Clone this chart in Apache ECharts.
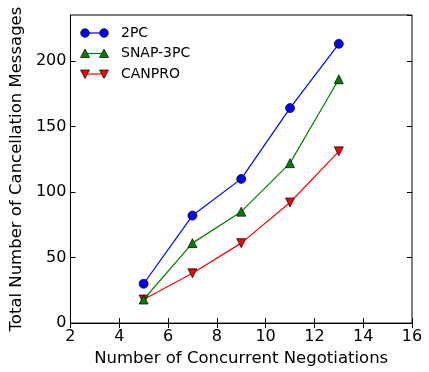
<!DOCTYPE html>
<html>
<head>
<meta charset="utf-8">
<script src="https://cdn.jsdelivr.net/npm/echarts@6/dist/echarts.min.js"></script>
<style>html,body{margin:0;padding:0;background:#fff;}#c{width:429px;height:372px;}</style>
</head>
<body>
<div id="c"></div>
<script>
var xValues = [5, 7, 9, 11, 13];
var seriesNames = ['2PC', 'SNAP-3PC', 'CANPRO'];
var values2PC = [30, 82, 110, 164, 213];
var valuesSNAP = [18, 61, 85, 122, 186];
var valuesCANPRO = [18, 38, 61, 92, 131];
var xTicks = [2, 4, 6, 8, 10, 12, 14, 16];
var yTicks = [0, 50, 100, 150, 200];

var colors = ['#0000ff', '#008000', '#ff0000'];
var symbols = ['circle', 'triangle', 'path://M0,0 L10,0 L5,10 Z'];
var allValues = [values2PC, valuesSNAP, valuesCANPRO];
var FONT = 'DejaVu Sans';

var chart = echarts.init(document.getElementById('c'), null, {renderer: 'canvas'});

var series = allValues.map(function (vals, i) {
  return {
    name: seriesNames[i],
    type: 'line',
    data: vals.map(function (v, j) { return [xValues[j], v]; }),
    symbol: symbols[i],
    symbolSize: i === 0 ? 9 : 9,
    showSymbol: true,
    lineStyle: {color: colors[i], width: 1.2},
    itemStyle: {color: colors[i], borderColor: '#000', borderWidth: 0.7},
    animation: false,
    z: 3 + (2 - i)
  };
});

// legend drawn as graphics (two markers per entry like matplotlib)
var legendGraphics = [];
var lx1 = 85, lx2 = 104, ltx = 121, ly0 = 33, ldy = 20.5;
seriesNames.forEach(function (name, i) {
  var y = ly0 + i * ldy;
  legendGraphics.push({type: 'line', shape: {x1: lx1, y1: y, x2: lx2, y2: y}, style: {stroke: colors[i], lineWidth: 1.2}, z: 10});
  [lx1, lx2].forEach(function (x) {
    if (i === 0) {
      legendGraphics.push({type: 'circle', shape: {cx: x, cy: y, r: 4.3}, style: {fill: colors[i], stroke: '#000', lineWidth: 0.7}, z: 11});
    } else if (i === 1) {
      legendGraphics.push({type: 'polygon', shape: {points: [[x, y - 4.5], [x + 4.5, y + 4], [x - 4.5, y + 4]]}, style: {fill: colors[i], stroke: '#000', lineWidth: 0.7}, z: 11});
    } else {
      legendGraphics.push({type: 'polygon', shape: {points: [[x - 4.5, y - 4], [x + 4.5, y - 4], [x, y + 4.5]]}, style: {fill: colors[i], stroke: '#000', lineWidth: 0.7}, z: 11});
    }
  });
  legendGraphics.push({type: 'text', x: ltx, y: y, style: {text: name, fill: '#000', font: '14px "' + FONT + '"', verticalAlign: 'middle', align: 'left'}, z: 11});
});

var tickStyle = {show: true, inside: true, length: 5, lineStyle: {color: '#000', width: 1}};

chart.setOption({
  backgroundColor: '#fff',
  animation: false,
  grid: {left: 68, right: 17, top: 15, bottom: 46, show: true, borderColor: '#000', borderWidth: 1, backgroundColor: 'transparent'},
  xAxis: [{
    type: 'value', min: xTicks[0], max: xTicks[xTicks.length - 1], interval: 2, position: 'bottom',
    axisLine: {show: true, lineStyle: {color: '#000', width: 1}},
    axisTick: tickStyle,
    splitLine: {show: false},
    axisLabel: {color: '#000', fontFamily: FONT, fontSize: 16, margin: 6},
    name: 'Number of Concurrent Negotiations', nameLocation: 'middle', nameGap: 24,
    nameTextStyle: {color: '#000', fontFamily: FONT, fontSize: 16.5}
  }, {
    type: 'value', min: xTicks[0], max: xTicks[xTicks.length - 1], interval: 2, position: 'top',
    axisLine: {show: false}, axisTick: tickStyle, splitLine: {show: false}, axisLabel: {show: false}
  }],
  yAxis: [{
    type: 'value', min: 0, max: 235, interval: 50, position: 'left',
    axisLine: {show: true, lineStyle: {color: '#000', width: 1}},
    axisTick: tickStyle,
    splitLine: {show: false},
    axisLabel: {color: '#000', fontFamily: FONT, fontSize: 16, margin: 4, showMaxLabel: false},
    name: 'Total Number of Cancellation Messages', nameLocation: 'middle', nameGap: 42,
    nameTextStyle: {color: '#000', fontFamily: FONT, fontSize: 16.5}
  }, {
    type: 'value', min: 0, max: 235, interval: 50, position: 'right',
    axisLine: {show: false}, axisTick: tickStyle, splitLine: {show: false}, axisLabel: {show: false}
  }],
  graphic: legendGraphics,
  series: series
});
</script>
</body>
</html>
